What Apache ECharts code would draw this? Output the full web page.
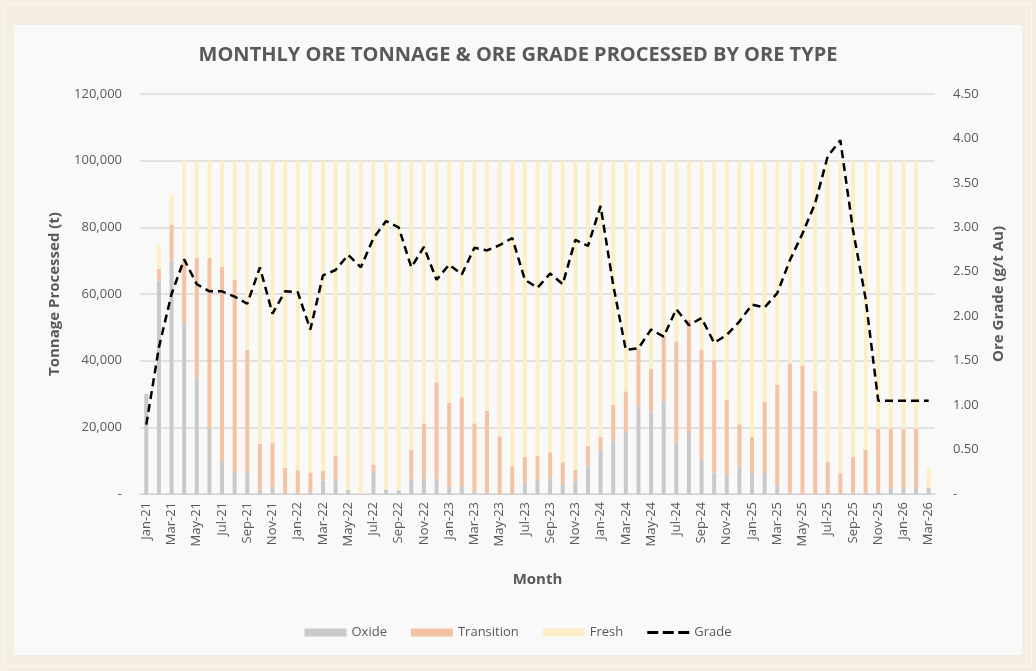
<!DOCTYPE html>
<html>
<head>
<meta charset="utf-8">
<script src="https://cdn.jsdelivr.net/npm/echarts/dist/echarts.min.js"></script>
<style>
html,body{margin:0;padding:0;width:1036px;height:671px;background:#f5eee3;overflow:hidden;}
#frame{position:absolute;left:4px;top:4px;width:1026px;height:661px;border:1px solid #fbf8f2;}
#panel{position:absolute;left:14px;top:25px;width:1008px;height:630px;background:#f9f9f9;}
#main{position:absolute;left:0;top:0;width:1036px;height:671px;}
</style>
</head>
<body>
<div id="frame"></div>
<div id="panel"></div>
<div id="main"></div>
<script>
var months=["Jan-21","Feb-21","Mar-21","Apr-21","May-21","Jun-21","Jul-21","Aug-21","Sep-21","Oct-21","Nov-21","Dec-21",
"Jan-22","Feb-22","Mar-22","Apr-22","May-22","Jun-22","Jul-22","Aug-22","Sep-22","Oct-22","Nov-22","Dec-22",
"Jan-23","Feb-23","Mar-23","Apr-23","May-23","Jun-23","Jul-23","Aug-23","Sep-23","Oct-23","Nov-23","Dec-23",
"Jan-24","Feb-24","Mar-24","Apr-24","May-24","Jun-24","Jul-24","Aug-24","Sep-24","Oct-24","Nov-24","Dec-24",
"Jan-25","Feb-25","Mar-25","Apr-25","May-25","Jun-25","Jul-25","Aug-25","Sep-25","Oct-25","Nov-25","Dec-25",
"Jan-26","Feb-26","Mar-26"];

// tonnes per month
var oxide=[30000,64000,70000,51000,35000,19500,10000,6300,6300,1300,2300,300,
0,500,4000,4000,1300,0,6300,1300,1100,4300,4500,4300,
2200,2200,800,0,0,0,3200,4200,5000,2700,3700,8500,
13300,15800,18800,26300,24500,27800,15500,18300,10300,6400,5700,8300,
6300,6300,2500,500,0,0,0,0,500,500,800,1500,
1500,1500,1500];
var transition=[0,3500,10800,19000,35800,51300,58100,58000,37000,13700,13000,7500,
7100,6000,3000,7400,0,0,2500,0,0,9000,16700,29200,
25100,26800,20400,25000,17300,8300,8000,7300,7500,6800,3600,6000,
3800,11000,12000,17300,13000,19700,30300,34000,33000,33700,22500,12600,
10800,21400,30200,38700,38400,31000,9700,6200,10700,12800,18800,18100,
18100,18100,500];
var fresh=[0,7300,9000,30000,29200,29200,31900,35700,56700,85000,84700,92200,
92900,93500,93000,88600,98700,100000,91200,98700,98900,86700,78800,66500,
72700,71000,78800,75000,82700,91700,88800,88500,87500,90500,92700,85500,
82900,73200,69200,56400,62500,52500,54200,47700,56700,59900,71800,79100,
82900,72300,67300,60800,61600,69000,90300,93800,88800,86700,80400,80400,
80400,80400,5600];
// g/t Au
var grade=[0.78,1.65,2.25,2.64,2.36,2.28,2.28,2.22,2.14,2.55,2.03,2.28,
2.27,1.85,2.46,2.52,2.69,2.55,2.88,3.07,3.00,2.55,2.78,2.41,
2.58,2.47,2.77,2.74,2.80,2.88,2.41,2.32,2.48,2.36,2.86,2.79,
3.24,2.35,1.62,1.64,1.85,1.77,2.08,1.90,1.98,1.70,1.79,1.94,
2.13,2.10,2.26,2.63,2.93,3.27,3.80,3.98,2.97,2.20,1.05,1.05,
1.05,1.05,1.05];

var txt='#595959';
var fnt='"Open Sans",sans-serif';
var dashIcon='path://M0,0M42,8M0,2.5h11v3h-11zM15.5,2.5h11v3h-11zM31,2.5h11v3h-11z';
var chart=echarts.init(document.getElementById('main'));

var option={
	backgroundColor:'transparent',
	animation:false,
	title:{
		text:'MONTHLY ORE TONNAGE & ORE GRADE PROCESSED BY ORE TYPE',
		left:'center',top:40,
		textStyle:{color:txt,fontSize:20,fontWeight:'bold',fontFamily:fnt}
	},
	legend:{
		bottom:27,left:'center',
		itemWidth:42,itemHeight:8,itemGap:24,
		textStyle:{color:txt,fontSize:13,fontFamily:fnt},
		data:[{name:'Oxide',icon:'rect'},{name:'Transition',icon:'rect'},{name:'Fresh',icon:'rect'},{name:'Grade',icon:dashIcon}]
	},
	grid:{left:140,right:101,top:94,bottom:177},
	xAxis:{
		type:'category',data:months,
		name:'Month',nameLocation:'middle',nameGap:78,
		nameTextStyle:{color:txt,fontSize:15,fontWeight:'bold',fontFamily:fnt},
		axisLine:{lineStyle:{color:'#d0d0d0'}},
		axisTick:{interval:1,lineStyle:{color:'#d0d0d0'}},
		axisLabel:{interval:1,rotate:90,color:txt,fontSize:13,fontFamily:fnt,margin:8}
	},
	yAxis:[{
		type:'value',min:0,max:120000,interval:20000,
		name:'Tonnage Processed (t)',nameLocation:'middle',nameGap:78,
		nameTextStyle:{color:txt,fontSize:15,fontWeight:'bold',fontFamily:fnt},
		axisLine:{show:false},axisTick:{show:false},
		splitLine:{lineStyle:{color:'#d9d9d9',width:1.5}},
		axisLabel:{color:txt,fontSize:13,fontFamily:fnt,margin:18,
			formatter:function(v){return v===0?'-':v.toLocaleString('en-US');}}
	},{
		type:'value',min:0,max:4.5,interval:0.5,
		name:'Ore Grade (g/t Au)',nameLocation:'middle',nameGap:56,nameRotate:90,
		nameTextStyle:{color:txt,fontSize:15,fontWeight:'bold',fontFamily:fnt},
		axisLine:{show:false},axisTick:{show:false},splitLine:{show:false},
		axisLabel:{color:txt,fontSize:13,fontFamily:fnt,margin:18,
			formatter:function(v){return v===0?'-':v.toFixed(2);}}
	}],
	series:[
		{name:'Oxide',type:'bar',stack:'ore',barWidth:4,data:oxide,itemStyle:{color:'#c9c9c9'}},
		{name:'Transition',type:'bar',stack:'ore',barWidth:4,data:transition,itemStyle:{color:'#f4c3a3'}},
		{name:'Fresh',type:'bar',stack:'ore',barWidth:4,data:fresh,itemStyle:{color:'#fcefc6'}},
		{name:'Grade',type:'line',yAxisIndex:1,data:grade,symbol:'none',
			lineStyle:{color:'#000',width:2.5,type:[8,5]},itemStyle:{color:'#000'}}
	]
};
chart.setOption(option);
</script>
</body>
</html>
